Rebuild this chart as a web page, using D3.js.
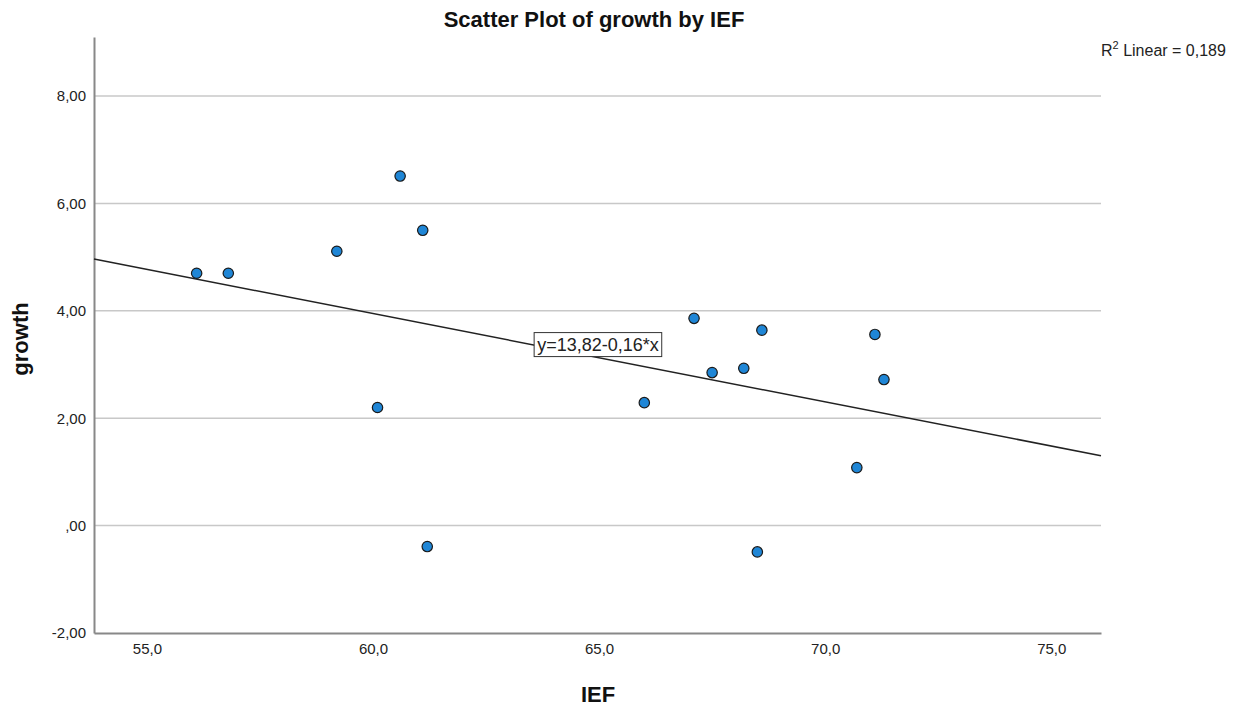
<!DOCTYPE html>
<html><head><meta charset="utf-8">
<script src="https://cdn.jsdelivr.net/npm/d3@7"></script>
<style>body{margin:0;background:#fff;} svg{display:block;font-family:"Liberation Sans",Arial,sans-serif;}</style>
</head><body>
<svg id="chart" width="1237" height="711"></svg>
<script>
const ief    = [56.1, 56.8, 59.2, 60.6, 61.1, 60.1, 61.2, 66.0, 67.1, 67.5, 68.2, 68.6, 68.5, 70.7, 71.1, 71.3];
const growth = [4.70, 4.70, 5.11, 6.51, 5.50, 2.20, -0.39, 2.29, 3.86, 2.85, 2.93, 3.64, -0.49, 1.08, 3.56, 2.72];
const xTicks = [55, 60, 65, 70, 75];
const yTicks = [-2, 0, 2, 4, 6, 8];
const fitIntercept = 13.82;
const fitSlope = -0.1645;
const fitLabel = "y=13,82-0,16*x";
const r2Label = "Linear = 0,189";

const svg = d3.select("#chart");
const L = 94, R = 1101, T = 37, B = 633;
const x = d3.scaleLinear().domain([53.83, 76.1]).range([L, R]);
const y = d3.scaleLinear().domain([-2, 9.1]).range([B, T]);
const fmtY = v => v === 0 ? ",00" : v.toFixed(2).replace(".", ",");
const fmtX = v => v.toFixed(1).replace(".", ",");
const FF = "Liberation Sans, Arial, sans-serif";

// gridlines
svg.append("g").selectAll("line").data(yTicks.filter(d => d > -2)).join("line")
  .attr("x1", L).attr("x2", R).attr("y1", d => y(d)).attr("y2", d => y(d))
  .attr("stroke", "#c8c8c8").attr("stroke-width", 1.5);

// axes
const yAxis = svg.append("g").attr("transform", `translate(${L},0)`)
  .call(d3.axisLeft(y).tickValues(yTicks).tickFormat(fmtY).tickSize(0).tickPadding(8));
yAxis.select(".domain").attr("stroke", "#888").attr("stroke-width", 2);
yAxis.selectAll("text").attr("font-size", 15).attr("fill", "#222").attr("font-family", FF);

const xAxis = svg.append("g").attr("transform", `translate(0,${B})`)
  .call(d3.axisBottom(x).tickValues(xTicks).tickFormat(fmtX).tickSize(0).tickPadding(10));
xAxis.select(".domain").attr("stroke", "#888").attr("stroke-width", 2);
xAxis.selectAll("text").attr("font-size", 15).attr("fill", "#222").attr("font-family", FF);

// fit line
const x0 = x.domain()[0], x1 = x.domain()[1];
svg.append("line")
  .attr("x1", x(x0)).attr("y1", y(fitIntercept + fitSlope * x0))
  .attr("x2", x(x1)).attr("y2", y(fitIntercept + fitSlope * x1))
  .attr("stroke", "#222").attr("stroke-width", 1.5);

// points
svg.append("g").selectAll("circle").data(ief.map((v, i) => [v, growth[i]])).join("circle")
  .attr("cx", d => x(d[0])).attr("cy", d => y(d[1])).attr("r", 5.2)
  .attr("fill", "#1f86d6").attr("stroke", "#1a1a1a").attr("stroke-width", 1.2);

// fit label box
const lx = 63.63, ly = fitIntercept + fitSlope * lx;
const lg = svg.append("g");
const lt = lg.append("text").attr("x", x(lx)).attr("y", y(ly) + 5)
  .attr("font-size", 18).attr("fill", "#222").text(fitLabel);
const bb = lt.node().getBBox();
lg.insert("rect", "text").attr("x", bb.x - 3).attr("y", bb.y - 2)
  .attr("width", bb.width + 6).attr("height", bb.height + 4)
  .attr("fill", "#fff").attr("stroke", "#333").attr("stroke-width", 1);

// R2 label
const rt = svg.append("text").attr("x", 1101).attr("y", 56).attr("font-size", 16).attr("fill", "#222");
rt.append("tspan").text("R");
rt.append("tspan").attr("dy", -7).attr("font-size", 11).text("2");
rt.append("tspan").attr("dy", 7).text(" " + r2Label);

// title and axis titles
svg.append("text").attr("x", 594).attr("y", 27).attr("text-anchor", "middle")
  .attr("font-size", 22).attr("font-weight", "bold").attr("fill", "#111").text("Scatter Plot of growth by IEF");
svg.append("text").attr("x", 598).attr("y", 702).attr("text-anchor", "middle")
  .attr("font-size", 22).attr("font-weight", "bold").attr("fill", "#111").text("IEF");
svg.append("text").attr("transform", "translate(28,339) rotate(-90)").attr("text-anchor", "middle")
  .attr("font-size", 22).attr("font-weight", "bold").attr("fill", "#111").text("growth");
</script>
</body></html>
